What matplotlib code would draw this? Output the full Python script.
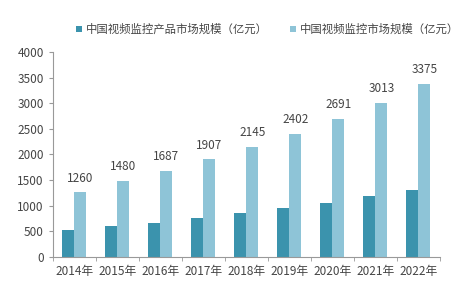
import matplotlib
matplotlib.use("Agg")
import matplotlib.pyplot as plt
import numpy as np

plt.rcParams['font.family'] = ['Noto Sans CJK SC', 'DejaVu Sans']

years = ['2014年', '2015年', '2016年', '2017年', '2018年', '2019年', '2020年', '2021年', '2022年']
product = [520, 600, 670, 760, 850, 950, 1060, 1180, 1310]
market = [1260, 1480, 1687, 1907, 2145, 2402, 2691, 3013, 3375]

c_dark = '#3b93ad'
c_light = '#8ec4d7'
txt = '#454545'

fig = plt.figure(figsize=(4.64, 2.92), dpi=100)
ax = fig.add_axes([0.114, 0.12, 0.834, 0.702])

x = np.arange(len(years))
w = 0.28
ax.bar(x - w / 2, product, w, color=c_dark, label='中国视频监控产品市场规模（亿元）')
ax.bar(x + w / 2, market, w, color=c_light, label='中国视频监控市场规模（亿元）')

for xi, v in zip(x, market):
    ax.text(xi + w / 2, v + 150, str(v), ha='center', va='bottom', fontsize=8.5, color=txt)

ax.set_xlim(-0.5, len(years) - 0.5)
ax.set_ylim(0, 4000)
ax.set_yticks(np.arange(0, 4001, 500))
ax.set_xticks(x)
ax.set_xticklabels(years)
ax.set_xticks(np.arange(-0.5, len(years), 1), minor=True)
ax.tick_params(axis='x', which='major', length=0, labelsize=8.5, colors=txt, pad=6)
ax.tick_params(axis='x', which='minor', length=3, color='#999999')
ax.tick_params(axis='y', length=3, labelsize=8.5, colors=txt, color='#999999')

for s in ['top', 'right']:
    ax.spines[s].set_visible(False)
for s in ['left', 'bottom']:
    ax.spines[s].set_color('#999999')
    ax.spines[s].set_linewidth(0.8)

ax.legend(loc='center left', bbox_to_anchor=(0.06, 1.11), ncol=2, frameon=False,
          fontsize=8.2, handlelength=0.55, handleheight=0.55, handletextpad=0.35,
          columnspacing=1.9, labelcolor=txt, borderaxespad=0, borderpad=0)

fig.savefig('out.png', dpi=100, facecolor='white')
